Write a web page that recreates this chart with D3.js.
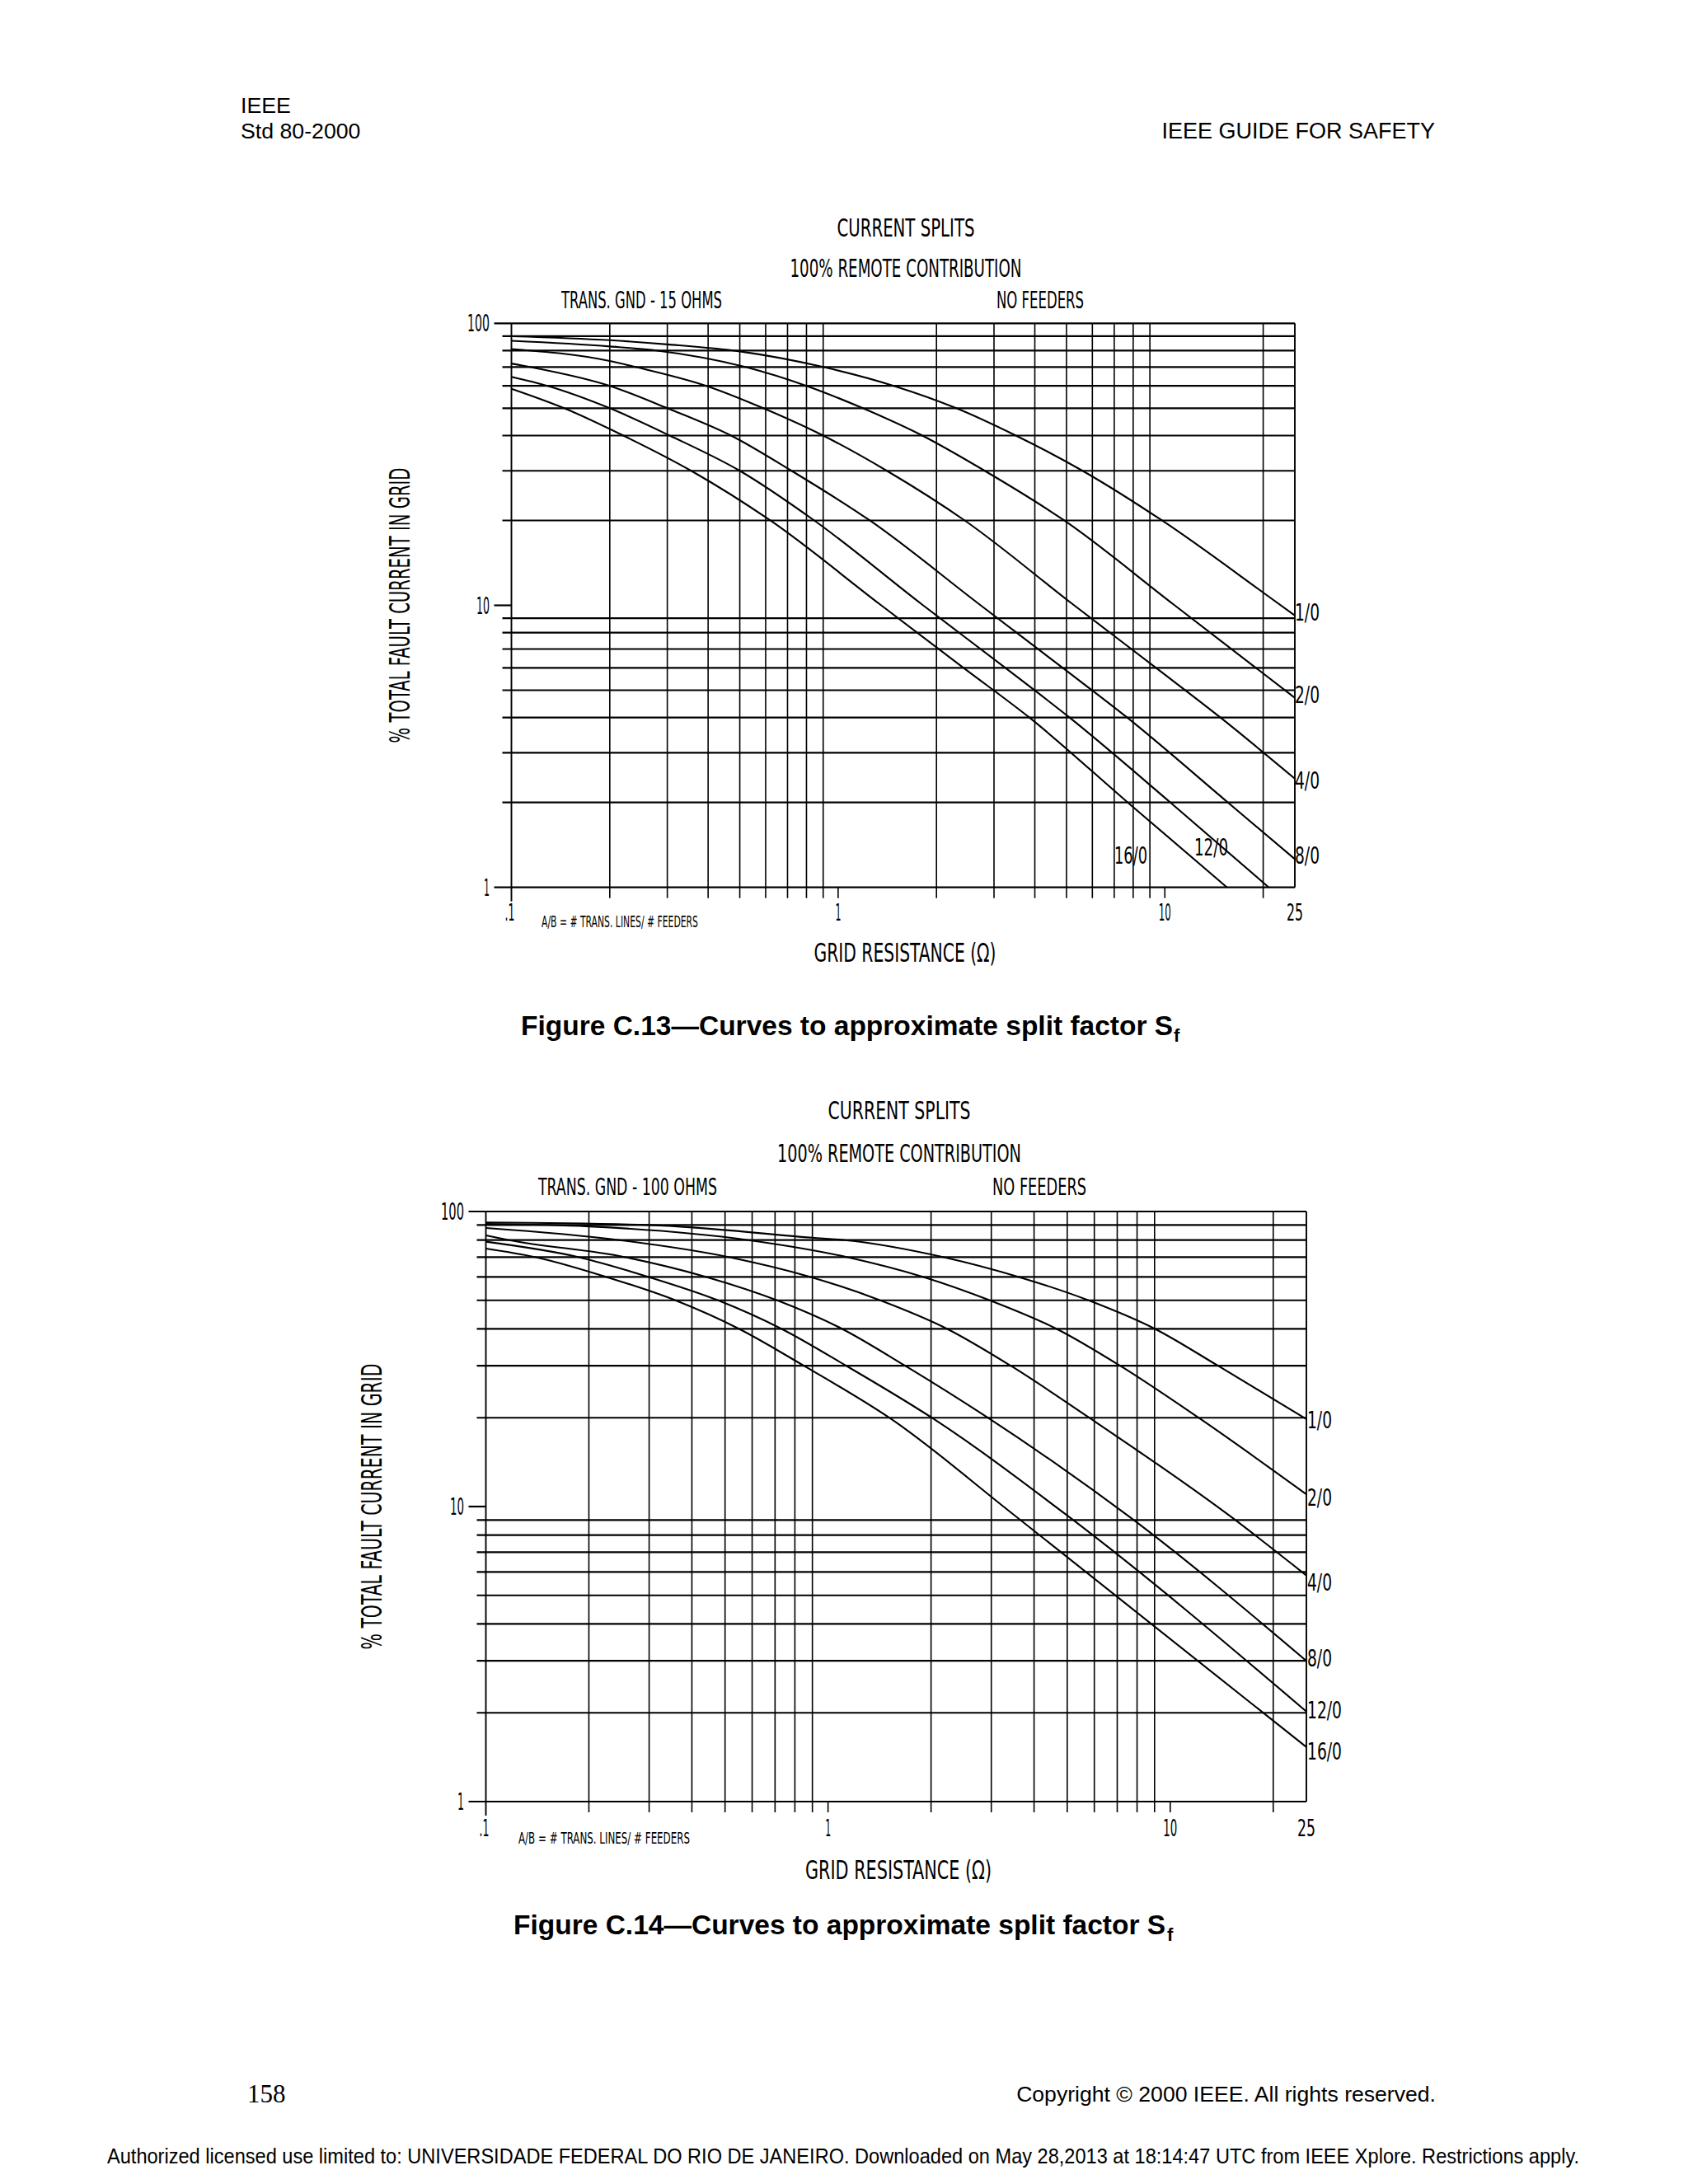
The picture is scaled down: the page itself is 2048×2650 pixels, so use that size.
<!DOCTYPE html>
<html><head><meta charset="utf-8">
<script src="https://cdn.jsdelivr.net/npm/d3@7"></script>
<style>
body{margin:0;background:#fff}
svg{display:block;background:#fff}
</style></head>
<body>
<svg id="page" width="2048" height="2650"></svg>
<script>
// ------------------- DATA -------------------
const xMinorTicks = [0.2,0.3,0.4,0.5,0.6,0.7,0.8,0.9,2,3,4,5,6,7,8,9,20];
const xMajorTicks = [1,10];
const xTickValues = [0.1,1,10,25];
const xTickLabels = [".1","1","10","25"];
const yMinorTicks = [2,3,4,5,6,7,8,9,20,30,40,50,60,70,80,90];
const yTickValues = [1,10,100];
const yTickLabels = ["1","10","100"];
const seriesLabels = ["1/0","2/0","4/0","8/0","12/0","16/0"];

// Figure C.13 (TRANS. GND - 15 OHMS): [grid resistance ohm, % current]
const fig13_1_0  = [[0.1,90],[0.2,87.1],[0.3,84.2],[0.5,79.5],[0.9,70],[1.48,60],[2.3,50],[3.5,40],[5.6,30],[9.8,20],[20,11.1],[25,9.2]];
const fig13_2_0  = [[0.1,86.7],[0.2,82.8],[0.28,80],[0.52,70],[0.8,60],[1.19,50],[1.81,40],[2.81,30],[4.92,20],[10.6,10.1],[25,4.7]];
const fig13_4_0  = [[0.1,81.1],[0.2,73.5],[0.24,70],[0.395,60],[0.59,50],[0.9,40],[1.41,30],[2.44,20],[5.22,10.1],[9.4,6],[14.8,4],[25,2.43]];
const fig13_8_0  = [[0.1,72],[0.114,70],[0.2,60],[0.3,50],[0.47,40],[0.72,30],[1.25,20],[2.7,10.1],[4.87,6],[7.67,4],[15.6,2],[25,1.26]];
const fig13_12_0 = [[0.1,64.6],[0.129,60],[0.2,50],[0.305,40],[0.5,30],[0.845,20],[1.8,10.1],[3.25,6],[5.11,4],[10.4,2],[20.8,1]];
const fig13_16_0 = [[0.1,58.6],[0.145,50],[0.22,40],[0.355,30],[0.62,20],[1.34,10.1],[2.42,6],[3.85,4],[7.7,2],[15.5,1]];

// Figure C.14 (TRANS. GND - 100 OHMS)
const fig14_1_0  = [[0.1,91.8],[0.3,90],[0.9,81.5],[1.12,80],[2.18,70],[3.61,60],[5.77,50],[9.03,40],[13.8,30],[25,19.8]];
const fig14_2_0  = [[0.1,90.8],[0.2,89],[0.585,80],[1.14,70],[1.9,60],[2.97,50],[4.66,40],[7.14,30],[12.1,20],[25,11]];
const fig14_4_0  = [[0.1,87.9],[0.246,80],[0.515,70],[0.889,60],[1.42,50],[2.23,40],[3.42,30],[5.8,20],[15,9.26],[25,5.84]];
const fig14_8_0  = [[0.1,83],[0.117,80],[0.256,70],[0.441,60],[0.71,50],[1.1,40],[1.68,30],[2.93,20],[7.57,9.26],[25,3.0]];
const fig14_12_0 = [[0.1,79],[0.187,70],[0.299,60],[0.477,50],[0.732,40],[1.13,30],[2.01,20],[5.04,9.26],[25,2.02]];
const fig14_16_0 = [[0.1,74.9],[0.14,70],[0.225,60],[0.358,50],[0.55,40],[0.85,30],[1.51,20],[3.54,9.26],[25,1.53]];

// ------------------- DRAWING -------------------
const CAD = "'Liberation Sans Narrow','DejaVu Sans Condensed','Arial Narrow',sans-serif";
const SANS = "'Liberation Sans',Arial,Helvetica,sans-serif";
const SERIF = "'Liberation Serif','Times New Roman',serif";
const svg = d3.select('#page');
svg.append('rect').attr('width',2048).attr('height',2650).attr('fill','#fff');

function txt(g, s, x, y, o) {
  const t = g.append('text').attr('x', x).attr('y', y).text(s)
    .attr('font-size', o.size).attr('font-family', o.family || CAD)
    .attr('text-anchor', o.anchor || 'start').attr('fill', '#000');
  if (o.w) t.attr('textLength', o.w).attr('lengthAdjust', 'spacingAndGlyphs');
  if (o.weight) t.attr('font-weight', o.weight);
  return t;
}

function drawChart(cfg) {
  const g = svg.append('g');
  const x = d3.scaleLog().domain([0.1, 25]).range([cfg.x0, cfg.x1]);
  const y = d3.scaleLog().domain([1, 100]).range([cfg.yBot, cfg.yTop]);
  const HW = 2.2, VW = 1.6;

  g.selectAll('line.vminor').data(xMinorTicks).join('line')
    .attr('x1', d => x(d)).attr('x2', d => x(d))
    .attr('y1', y(100)).attr('y2', y(1) + 13)
    .attr('stroke', '#000').attr('stroke-width', VW);
  g.selectAll('line.vmajor').data(xMajorTicks).join('line')
    .attr('x1', d => x(d)).attr('x2', d => x(d))
    .attr('y1', y(1)).attr('y2', y(1) + 13)
    .attr('stroke', '#000').attr('stroke-width', VW);
  g.append('line').attr('x1', x(0.1)).attr('x2', x(0.1)).attr('y1', y(100)).attr('y2', y(1) + 17)
    .attr('stroke', '#000').attr('stroke-width', VW + 0.3);
  g.append('line').attr('x1', x(25)).attr('x2', x(25)).attr('y1', y(100)).attr('y2', y(1))
    .attr('stroke', '#000').attr('stroke-width', VW + 0.3);

  g.selectAll('line.hminor').data(yMinorTicks).join('line')
    .attr('x1', x(0.1) - 11).attr('x2', x(25))
    .attr('y1', d => y(d)).attr('y2', d => y(d))
    .attr('stroke', '#000').attr('stroke-width', HW);
  g.selectAll('line.hmajor').data(yTickValues).join('line')
    .attr('x1', x(0.1) - 21).attr('x2', d => d === 10 ? x(0.1) : x(25))
    .attr('y1', d => y(d)).attr('y2', d => y(d))
    .attr('stroke', '#000').attr('stroke-width', HW);

  yTickValues.forEach((v, i) => {
    txt(g, yTickLabels[i], cfg.yLabX, y(v) + cfg.yLabDy, {size: cfg.tickSize, anchor: 'end', w: cfg.yLabW[i]});
  });
  xTickValues.forEach((v, i) => {
    txt(g, xTickLabels[i], x(v) + (i === 0 ? -2 : 0), cfg.xLabY, {size: cfg.tickSize, anchor: 'middle', w: cfg.xLabW[i]});
  });

  const line = d3.line().x(d => x(d[0])).y(d => y(d[1])).curve(d3.curveMonotoneX);
  g.selectAll('path.curve').data(cfg.series).join('path')
    .attr('d', d => line(d)).attr('fill', 'none').attr('stroke', '#000').attr('stroke-width', 2.1);

  cfg.seriesLab.forEach((p, i) => {
    txt(g, seriesLabels[i], p[0], p[1], {size: cfg.tickSize, w: p[2]});
  });

  txt(g, 'CURRENT SPLITS', cfg.cx, cfg.t1y, {size: 31, anchor: 'middle', w: cfg.t1w});
  txt(g, '100% REMOTE CONTRIBUTION', cfg.cx, cfg.t2y, {size: 31, anchor: 'middle', w: cfg.t2w});
  txt(g, cfg.gndText, cfg.gndX, cfg.t3y, {size: 28, w: cfg.gndW});
  txt(g, 'NO FEEDERS', cfg.nfX, cfg.t3y, {size: 28, w: cfg.nfW});
  txt(g, 'A/B = # TRANS. LINES/ # FEEDERS', cfg.abX, cfg.abY, {size: 19, w: cfg.abW});
  txt(g, 'GRID RESISTANCE (\u03A9)', cfg.gx, cfg.gy, {size: 32, anchor: 'middle', w: cfg.gw});
  g.append('text').attr('transform', `translate(${cfg.ytX},${(cfg.yTop + cfg.yBot) / 2}) rotate(-90)`)
    .attr('text-anchor', 'middle').attr('font-family', CAD).attr('font-size', 33)
    .attr('textLength', cfg.ytW).attr('lengthAdjust', 'spacingAndGlyphs')
    .text('% TOTAL FAULT CURRENT IN GRID');

  txt(svg, cfg.caption, cfg.capX, cfg.capY, {size: 33.5, family: SANS, weight: 'bold'});
  txt(svg, 'f', cfg.subX, cfg.capY + 8, {size: 22, family: SANS, weight: 'bold'});
}

txt(svg, 'IEEE', 292, 137, {size: 26.7, family: SANS});
txt(svg, 'Std 80-2000', 292, 168, {size: 26.7, family: SANS});
txt(svg, 'IEEE GUIDE FOR SAFETY', 1741, 168, {size: 27, family: SANS, anchor: 'end'});
txt(svg, '158', 300, 2551, {size: 31, family: SERIF});
txt(svg, 'Copyright \u00A9 2000 IEEE. All rights reserved.', 1742, 2550, {size: 26.6, family: SANS, anchor: 'end'});
txt(svg, 'Authorized licensed use limited to: UNIVERSIDADE FEDERAL DO RIO DE JANEIRO. Downloaded on May 28,2013 at 18:14:47 UTC from IEEE Xplore.  Restrictions apply.',
    130, 2625, {size: 25, family: SANS, w: 1786});

drawChart({
  x0: 620.5, x1: 1571, yTop: 392.3, yBot: 1076.7,
  series: [fig13_1_0, fig13_2_0, fig13_4_0, fig13_8_0, fig13_12_0, fig13_16_0],
  seriesLab: [[1571, 753, 30], [1571, 853, 30], [1571, 957, 30], [1571, 1048, 30], [1449, 1038, 41], [1352, 1048, 40]],
  tickSize: 28, yLabX: 594, yLabDy: 10, yLabW: [7, 16, 27], xLabY: 1117, xLabW: [12, 7, 15, 20],
  cx: 1099, t1y: 287, t1w: 167, t2y: 336, t2w: 281, t3y: 374,
  gndText: 'TRANS. GND - 15 OHMS', gndX: 681, gndW: 195, nfX: 1209, nfW: 106,
  abX: 657, abY: 1125, abW: 190, gx: 1098, gy: 1167, gw: 221, ytX: 497, ytW: 334,
  caption: 'Figure C.13\u2014Curves to approximate split factor S', capX: 632, capY: 1256, subX: 1424
});

drawChart({
  x0: 589.5, x1: 1585, yTop: 1470, yBot: 2186,
  series: [fig14_1_0, fig14_2_0, fig14_4_0, fig14_8_0, fig14_12_0, fig14_16_0],
  seriesLab: [[1586, 1733, 30], [1586, 1827, 30], [1586, 1930, 30], [1586, 2022, 30], [1586, 2085, 42], [1586, 2135, 42]],
  tickSize: 28, yLabX: 563, yLabDy: 10, yLabW: [8, 17, 28], xLabY: 2228, xLabW: [12, 7, 17, 22],
  cx: 1091, t1y: 1358, t1w: 173, t2y: 1410, t2w: 296, t3y: 1450,
  gndText: 'TRANS. GND - 100 OHMS', gndX: 653, gndW: 217, nfX: 1204, nfW: 114,
  abX: 629, abY: 2237, abW: 208, gx: 1090, gy: 2280, gw: 226, ytX: 463, ytW: 347,
  caption: 'Figure C.14\u2014Curves to approximate split factor S', capX: 623, capY: 2347, subX: 1416
});
</script>
</body></html>
